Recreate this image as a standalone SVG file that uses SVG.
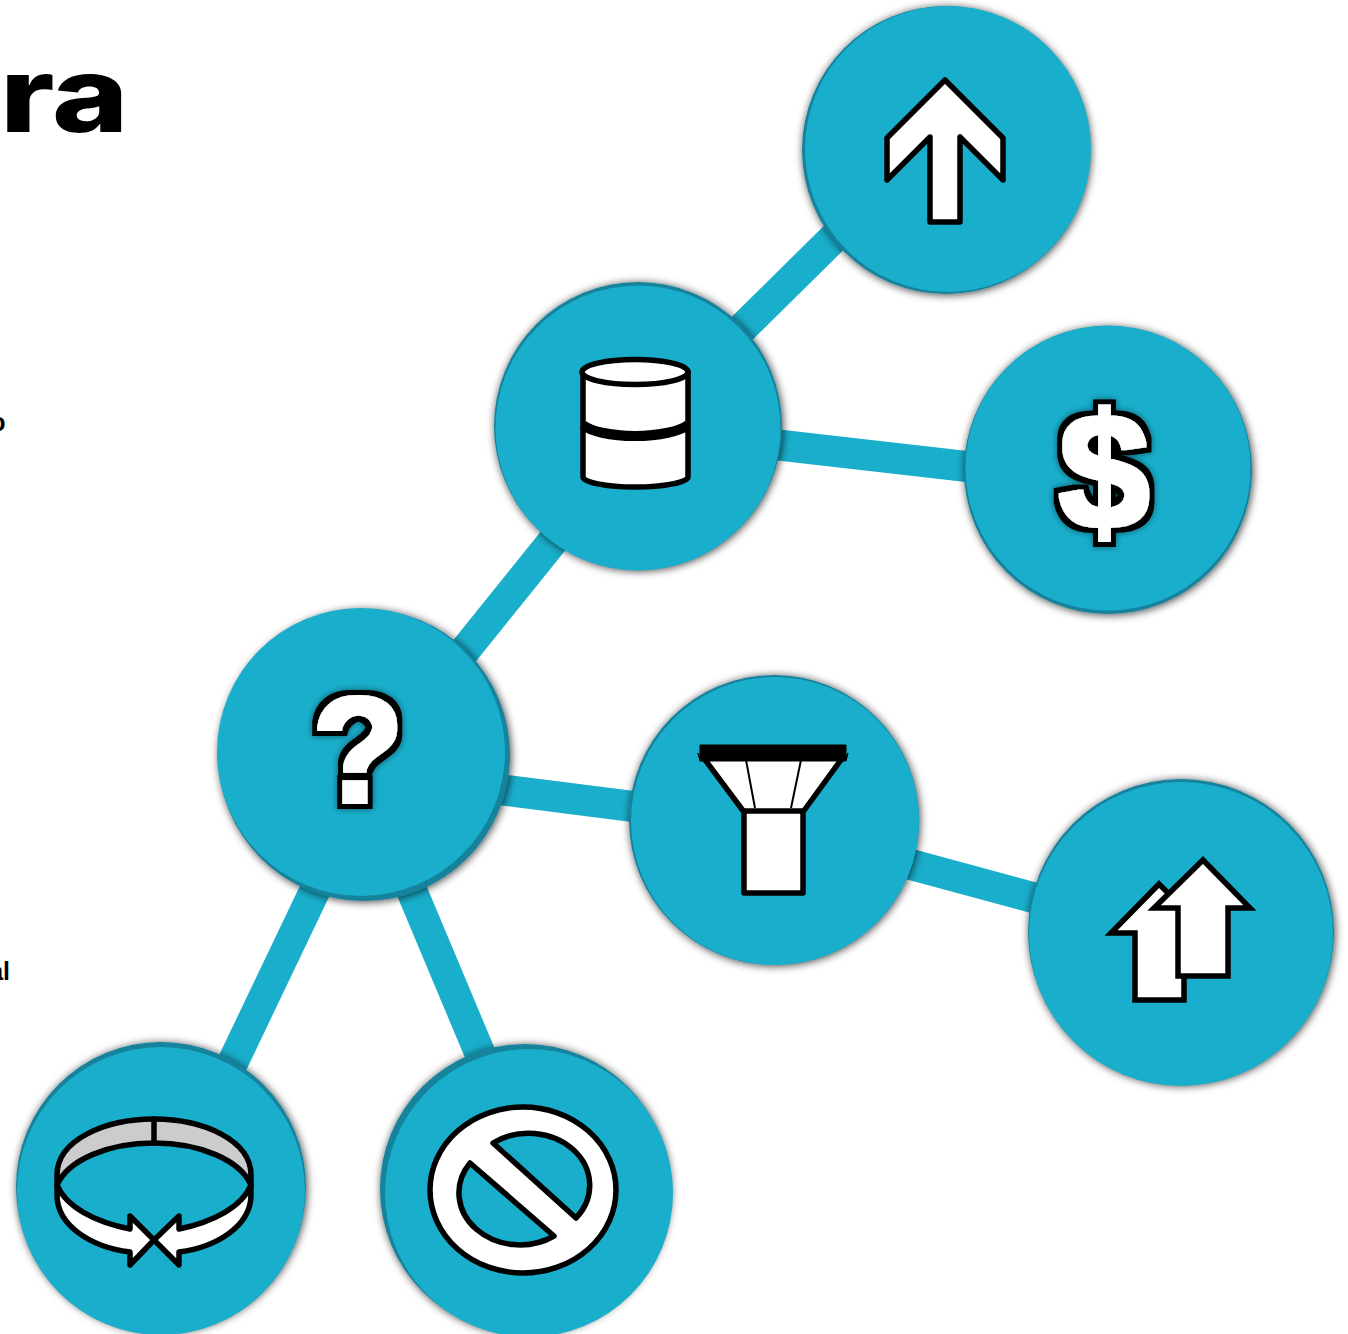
<svg xmlns="http://www.w3.org/2000/svg" width="1348" height="1334" viewBox="0 0 1348 1334">
<style>
.bg{fill:#fff}
.conn{stroke:#19aecb;stroke-width:31;fill:none}
.ring{fill:#13829b}
.disc{fill:#19aecb}
.ic{fill:#fff;stroke:#000;stroke-width:5.5;stroke-linejoin:round;stroke-linecap:round}
.gl{font-family:"Liberation Sans",Arial,sans-serif;font-weight:700;fill:#fff;text-anchor:middle}
.txt{font-family:"Liberation Sans",Arial,sans-serif;font-size:25px;font-weight:700;fill:#000;text-anchor:end}
.logo{font-family:"Inter","Liberation Sans",sans-serif;font-weight:800;fill:#000}
</style>
<defs>
<filter id="sh" x="-15%" y="-15%" width="130%" height="130%"><feDropShadow dx="1" dy="1" stdDeviation="4.500" flood-color="#000" flood-opacity="0.75"/></filter>
<filter id="gs" x="-25%" y="-25%" width="150%" height="150%">
<feMorphology in="SourceAlpha" operator="dilate" radius="1.500" result="b"/>
<feMorphology in="SourceAlpha" operator="dilate" radius="6.500" result="o"/>
<feGaussianBlur in="o" stdDeviation="0.700" result="os"/>
<feGaussianBlur in="o" stdDeviation="3" result="sb"/>
<feFlood flood-color="#000" flood-opacity="0.5"/><feComposite in2="sb" operator="in" result="shadow"/>
<feFlood flood-color="#000"/><feComposite in2="os" operator="in" result="line"/>
<feFlood flood-color="#fff"/><feComposite in2="b" operator="in" result="body"/>
<feMerge><feMergeNode in="shadow"/><feMergeNode in="line"/><feMergeNode in="body"/></feMerge>
</filter>
</defs>
<rect class="bg" width="1348" height="1334"/>
<g id="page-text">
<text class="logo" transform="translate(0,132) scale(1.25,1)" font-size="104">ra</text>
<text class="txt" x="5.500" y="431">o</text>
<text class="txt" x="10" y="980">al</text>
</g>
<g id="connectors">
<line class="conn" x1="712" y1="358" x2="862" y2="210"/>
<line class="conn" x1="700" y1="436" x2="1040" y2="475"/>
<line class="conn" x1="425" y1="700" x2="590" y2="495"/>
<line class="conn" x1="440" y1="782" x2="700" y2="815"/>
<line class="conn" x1="850" y1="848" x2="1090" y2="913"/>
<line class="conn" x1="340" y1="838" x2="210" y2="1110"/>
<line class="conn" x1="380" y1="815" x2="510" y2="1125"/>
</g>
<g id="node-up">
<circle class="ring" cx="946" cy="150" r="144" filter="url(#sh)"/><circle class="disc" cx="948" cy="149" r="143"/>
<path class="ic" d="M945,80L1003,138V180L960,137V222H930V137L887,180V138Z"/>
</g>
<g id="node-db">
<circle class="ring" cx="638" cy="426" r="144" filter="url(#sh)"/><circle class="disc" cx="638" cy="428" r="142.500"/>
<path class="ic" d="M583,372V477C583,482 605,487 635,487C665,487 688,482 688,477V372Z"/>
<ellipse class="ic" cx="635" cy="372" rx="53" ry="12.500"/>
<path d="M583,425C590,431 610,436 635,436C660,436 680,431 688,425" fill="none" stroke="#000" stroke-width="10"/>
</g>
<g id="node-dollar">
<circle class="ring" cx="1108" cy="470" r="144" filter="url(#sh)"/><circle class="disc" cx="1108" cy="468" r="142.500"/>
<text class="gl" filter="url(#gs)" x="1104" y="528" font-size="164">$</text>
</g>
<g id="node-question">
<circle class="ring" cx="364" cy="755" r="146" filter="url(#sh)"/><circle class="disc" cx="361" cy="752" r="144"/>
<text class="gl" filter="url(#gs)" x="358" y="802" font-size="150">?</text>
</g>
<g id="node-funnel">
<circle class="ring" cx="774" cy="820" r="145" filter="url(#sh)"/><circle class="disc" cx="775" cy="821" r="144"/>
<path class="ic" d="M703,757H843L803,812H744Z"/>
<path d="M746,760L755,808M801,760L791,808" fill="none" stroke="#000" stroke-width="2"/>
<rect class="ic" x="744" y="811" width="59" height="82"/>
<path d="M700,745H846V758L848,753L846,761H700L698,753L700,758Z" fill="#000" stroke="#000" stroke-width="1"/>
</g>
<g id="node-two-up">
<circle class="ring" cx="1181" cy="932" r="153" filter="url(#sh)"/><circle class="disc" cx="1181" cy="934" r="152"/>
<path class="ic" style="stroke-linejoin:miter;stroke-linecap:butt" d="M1159,884L1208,933H1184V1000H1135V933H1111Z"/>
<path class="ic" style="stroke-linejoin:miter;stroke-linecap:butt" d="M1203,860L1250,908H1228V976H1178V908H1154Z"/>
</g>
<g id="node-cycle">
<circle class="ring" cx="161" cy="1187" r="145" filter="url(#sh)"/><circle class="disc" cx="161" cy="1191" r="144"/>
<path class="ic" style="fill:#ccc" d="M57,1185V1175C57,1140 105,1119 154,1119C203,1119 251,1140 251,1175V1185C240,1160 200,1143 154,1143C108,1143 68,1160 57,1185Z"/>
<path class="ic" d="M154,1119V1143" fill="none"/>
<path class="ic" d="M57,1185C66,1207 95,1222 130,1229V1216L154,1240L130,1265V1252C90,1247 57,1225 57,1195Z"/>
<path class="ic" d="M251,1185C242,1207 213,1222 179,1229V1216L154,1240L179,1265V1252C218,1247 251,1225 251,1195Z"/>
</g>
<g id="node-no">
<circle class="ring" cx="525" cy="1189" r="145" filter="url(#sh)"/><circle class="disc" cx="529" cy="1193" r="144"/>
<path class="ic" fill-rule="evenodd" d="M430,1190A93,83 0 1 1 616,1190A93,83 0 1 1 430,1190ZM493,1143A61,52 0 0 1 576,1218ZM470,1163L554,1236A61,52 0 0 1 470,1163Z"/>
</g>
</svg>
